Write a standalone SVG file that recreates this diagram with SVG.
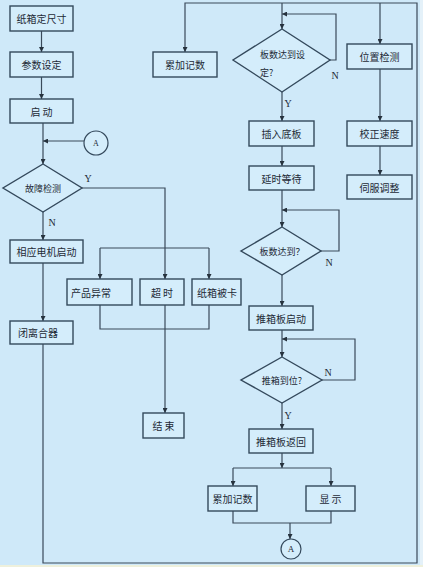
<svg xmlns="http://www.w3.org/2000/svg" width="423" height="567" viewBox="0 0 423 567">
<defs>
<marker id="ah" viewBox="0 0 10 10" refX="10" refY="5" markerWidth="5" markerHeight="5" orient="auto" markerUnits="userSpaceOnUse">
<path d="M0,0 L10,5 L0,10 z" fill="#26323e"/>
</marker>
</defs>
<style>
.bx{fill:#d4edfb;stroke:#34495c;stroke-width:1.4}
.t{font-family:"Noto Sans CJK SC","Noto Sans",sans-serif;font-size:10px;fill:#1e2a36;text-anchor:middle;dominant-baseline:central}
.lb{font-family:"Liberation Serif",serif;font-size:10px;fill:#1e2a36;text-anchor:middle;dominant-baseline:central}
.c{fill:none;stroke:#3a4a5a;stroke-width:1.2}
.a{marker-end:url(#ah)}
</style>
<rect x="0" y="0" width="423" height="567" fill="#cfe9f9"/>
<rect x="0" y="565" width="423" height="2" fill="#eef0dc"/>
<rect x="420" y="0" width="3" height="565" fill="#e4f1f9"/>
<g id="connectors">
<line class="c a" x1="41.5" y1="31" x2="41.5" y2="52"/>
<line class="c a" x1="41.5" y1="77" x2="41.5" y2="99"/>
<line class="c a" x1="43" y1="123" x2="43" y2="164"/>
<line class="c a" x1="84" y1="141" x2="43" y2="141"/>
<polyline class="c a" points="82,188 165,188 165,279"/>
<line class="c a" x1="43" y1="212" x2="43" y2="240"/>
<line class="c a" x1="43" y1="263" x2="43" y2="321"/>
<line class="c" x1="100" y1="248" x2="209" y2="248"/>
<line class="c a" x1="100" y1="248" x2="100" y2="279"/>
<line class="c a" x1="209" y1="248" x2="209" y2="279"/>
<polyline class="c" points="100,305 100,329 209,329 209,305"/>
<line class="c a" x1="165" y1="305" x2="165" y2="413"/>
<polyline class="c a" points="43,344 43,563 417,563 417,3 185,3 185,52"/>
<line class="c a" x1="282" y1="3" x2="282" y2="29"/>
<line class="c a" x1="380" y1="3" x2="380" y2="44"/>
<polyline class="c a" points="330,60 336,60 336,14 282,14"/>
<line class="c a" x1="282" y1="92" x2="282" y2="121"/>
<line class="c a" x1="282" y1="146" x2="282" y2="166"/>
<line class="c a" x1="282" y1="190" x2="282" y2="227"/>
<polyline class="c a" points="321,251 339,251 339,210 282,210"/>
<line class="c a" x1="282" y1="275" x2="282" y2="306"/>
<line class="c a" x1="282" y1="330" x2="282" y2="357"/>
<polyline class="c a" points="322,380 355,380 355,339 282,339"/>
<line class="c a" x1="282" y1="403" x2="282" y2="429"/>
<line class="c a" x1="282" y1="453" x2="282" y2="468"/>
<line class="c" x1="233" y1="468" x2="331" y2="468"/>
<line class="c a" x1="233" y1="468" x2="233" y2="486"/>
<line class="c a" x1="331" y1="468" x2="331" y2="486"/>
<polyline class="c" points="233,511 233,523 331,523 331,511"/>
<line class="c a" x1="290" y1="523" x2="290" y2="539"/>
<line class="c a" x1="380" y1="69" x2="380" y2="121"/>
<line class="c a" x1="380" y1="146" x2="380" y2="175"/>
<text class="lb" x="88" y="178">Y</text>
<text class="lb" x="52" y="222">N</text>
<text class="lb" x="335" y="75">N</text>
<text class="lb" x="288" y="103">Y</text>
<text class="lb" x="329" y="262">N</text>
<text class="lb" x="328" y="372">N</text>
<text class="lb" x="288" y="415">Y</text>
</g>
<g id="n1"><rect class="bx" x="10" y="6" width="63" height="25"/><text class="t" x="41.5" y="18.5">纸箱定尺寸</text></g>
<g id="n2"><rect class="bx" x="10" y="52" width="63" height="25"/><text class="t" x="41.5" y="64.5">参数设定</text></g>
<g id="n3"><rect class="bx" x="10" y="99" width="63" height="24"/><text class="t" x="41.5" y="111">启 动</text></g>
<g id="connA1"><circle cx="96" cy="143" r="12" fill="#d4edfb" stroke="#34495c" stroke-width="1.2"/><text class="lb" x="96" y="143" style="font-size:8px">A</text></g>
<g id="d1"><polygon class="bx" points="43,164 82,188 43,212 3,188"/><text class="t" x="43" y="188" style="font-size:9px">故障检测</text></g>
<g id="n4"><rect class="bx" x="10" y="240" width="73" height="23"/><text class="t" x="46.5" y="251.5">相应电机启动</text></g>
<g id="n5"><rect class="bx" x="10" y="321" width="63" height="23"/><text class="t" x="38" y="332.5">闭离合器</text></g>
<g id="n6"><rect class="bx" x="67" y="279" width="65" height="26"/><text class="t" x="91" y="292">产品异常</text></g>
<g id="n7"><rect class="bx" x="140" y="279" width="44" height="26"/><text class="t" x="162" y="292">超 时</text></g>
<g id="n8"><rect class="bx" x="192" y="279" width="49" height="26"/><text class="t" x="217" y="292">纸箱被卡</text></g>
<g id="n9"><rect class="bx" x="143" y="413" width="41" height="25"/><text class="t" x="163.5" y="425.5">结 束</text></g>
<g id="n10"><rect class="bx" x="153" y="52" width="64" height="25"/><text class="t" x="185" y="64.5">累加记数</text></g>
<g id="d2"><polygon class="bx" points="282,29 330,60 282,92 233,60"/><text class="t" x="260" y="54" style="text-anchor:start;font-size:9px">板数达到设</text><text class="t" x="260" y="72" style="text-anchor:start;font-size:9px">定?</text></g>
<g id="n11"><rect class="bx" x="249" y="121" width="65" height="25"/><text class="t" x="281.5" y="133.5">插入底板</text></g>
<g id="n12"><rect class="bx" x="249" y="166" width="65" height="24"/><text class="t" x="281.5" y="178">延时等待</text></g>
<g id="n13"><rect class="bx" x="347" y="44" width="65" height="25"/><text class="t" x="379.5" y="56.5">位置检测</text></g>
<g id="n14"><rect class="bx" x="347" y="121" width="65" height="25"/><text class="t" x="379.5" y="133.5">校正速度</text></g>
<g id="n15"><rect class="bx" x="347" y="175" width="65" height="24"/><text class="t" x="379.5" y="187">伺服调整</text></g>
<g id="d3"><polygon class="bx" points="282,227 321,251 282,275 241,251"/><text class="t" x="282" y="251" style="font-size:9px">板数达到？</text></g>
<g id="n16"><rect class="bx" x="249" y="306" width="64" height="24"/><text class="t" x="281" y="318">推箱板启动</text></g>
<g id="d4"><polygon class="bx" points="282,357 322,380 282,403 241,380"/><text class="t" x="282" y="380" style="font-size:9px">推箱到位?</text></g>
<g id="n17"><rect class="bx" x="249" y="429" width="64" height="24"/><text class="t" x="281" y="441">推箱板返回</text></g>
<g id="n18"><rect class="bx" x="208" y="486" width="49" height="25"/><text class="t" x="232.5" y="498.5">累加记数</text></g>
<g id="n19"><rect class="bx" x="306" y="486" width="49" height="25"/><text class="t" x="330.5" y="498.5">显 示</text></g>
<g id="connA2"><circle cx="291" cy="549" r="10" fill="#d4edfb" stroke="#34495c" stroke-width="1.2"/><text class="lb" x="291" y="549" style="font-size:9px">A</text></g>
</svg>
